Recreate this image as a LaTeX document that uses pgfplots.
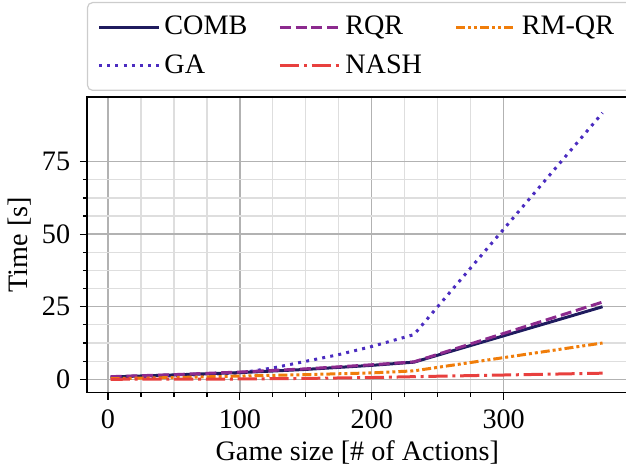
\documentclass[border=0pt]{standalone}
\usepackage{fontspec}
\setmainfont{Liberation Serif}
\usepackage{pgfplots}
\pgfplotsset{compat=1.18}

\definecolor{comb}{HTML}{1F1B5E}
\definecolor{rqr}{HTML}{8C2A8E}
\definecolor{rmqr}{HTML}{F07D0A}
\definecolor{ga}{HTML}{4B2CC0}
\definecolor{nash}{HTML}{E8403E}

\tikzset{
    combstyle/.style={comb},
    rqrstyle/.style={rqr, dash pattern=on 5.5pt off 2.4pt},
    rmqrstyle/.style={rmqr, dash pattern=on 4.5pt off 1.5pt on 1.5pt off 1.5pt on 1.5pt off 1.5pt},
    gastyle/.style={ga, dash pattern=on 1.5pt off 2.6pt},
    nashstyle/.style={nash, dash pattern=on 9.6pt off 2.4pt on 1.5pt off 2.4pt},
}

\begin{document}
\fontsize{14.1}{17}\selectfont
\begin{tikzpicture}
\begin{axis}[
    scale only axis,
    width=270.6pt, height=148pt,
    xmin=-16, xmax=394,
    ymin=-4.6, ymax=97.3,
    xtick={0,100,200,300},
    ytick={0,25,50,75},
    minor tick num=3,
    tick pos=left,
    tick align=outside,
    major tick length=3.5pt,
    minor tick length=2pt,
    every tick/.style={black, line width=0.6pt},
    grid=both,
    major grid style={draw=black!30, line width=0.7pt},
    minor grid style={draw=black!13, line width=0.6pt},
    axis line style={line width=0.75pt},
    /pgf/number format/assume math mode=true,
    xlabel={Game size [\# of Actions]},
    ylabel={Time [s]},
    every axis x label/.style={at={(axis description cs:0.5,0)}, anchor=base, yshift=-34pt},
    every axis y label/.style={at={(axis description cs:-0.124,0.5)}, anchor=center, rotate=90},
    legend columns=3,
    legend cell align=left,
    legend image code/.code={\draw[#1, line width=1.5pt] (0pt,0pt) -- (30pt,0pt);},
    legend style={at={(axis description cs:0,1)}, anchor=south west, yshift=3pt,
        draw=black!20, line width=0.6pt, rounded corners=2.5pt,
        inner xsep=5pt, inner ysep=4.5pt, row sep=4pt,
        /tikz/column 2/.style={column sep=13.5pt},
        /tikz/column 4/.style={column sep=14.4pt},
        /tikz/column 6/.style={nodes={text width=60pt}},
        font=\fontsize{14.1}{17}\selectfont},
    every axis plot/.append style={line width=1.5pt},
]
% drawing order: GA below the others
\addplot[gastyle, forget plot] coordinates {
    (2,0.6) (50,1.2) (100,2.2) (125,3.9) (150,6.2) (175,8.5) (200,11.3) (232,15.4) (375,91.8)};
\addplot[combstyle, forget plot] coordinates {
    (2,0.8) (50,1.5) (100,2.3) (150,3.4) (200,4.8) (232,5.9) (375,25.0)};
\addplot[rqrstyle, forget plot] coordinates {
    (2,0.9) (50,1.6) (100,2.5) (150,3.6) (200,5.0) (232,6.0) (375,26.6)};
\addplot[rmqrstyle, forget plot] coordinates {
    (2,0.2) (50,0.6) (100,1.1) (150,1.6) (200,2.2) (232,2.9) (375,12.5)};
\addplot[nashstyle, forget plot] coordinates {
    (2,0.0) (50,0.05) (100,0.1) (150,0.3) (200,0.6) (232,0.9) (375,2.1)};

\addlegendimage{combstyle}\addlegendentry{COMB}
\addlegendimage{rqrstyle}\addlegendentry{RQR}
\addlegendimage{rmqrstyle}\addlegendentry{RM-QR}
\addlegendimage{gastyle}\addlegendentry{GA}
\addlegendimage{nashstyle}\addlegendentry{NASH}
\end{axis}
\pgfresetboundingbox
\path[use as bounding box] ([xshift=-43.5pt,yshift=-40.5pt]current axis.south west)
    rectangle ([xshift=-0.8pt,yshift=48.5pt]current axis.north east);
\end{tikzpicture}
\end{document}
